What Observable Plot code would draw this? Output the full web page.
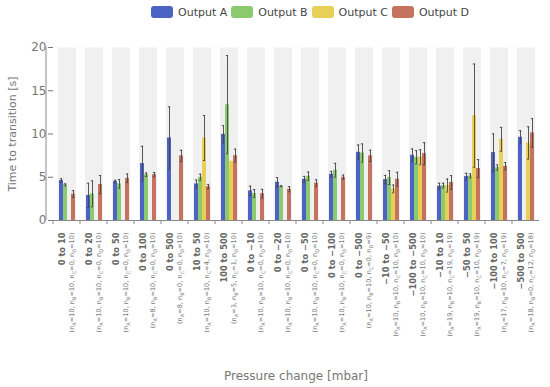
<!DOCTYPE html>
<html>
<head>
<meta charset="utf-8">
<script src="https://cdn.jsdelivr.net/npm/d3@7"></script>
<script src="https://cdn.jsdelivr.net/npm/@observablehq/plot@0.6"></script>
<style>
  body { margin: 0; background: #fff; font-family: "DejaVu Sans", sans-serif; }
  #legend { height: 24px; display: flex; align-items: center; padding-left: 151px; font-size: 11px; color: #444; }
  .item { display: flex; align-items: center; margin-right: 4px; }
  .sw { width: 22px; height: 12px; border-radius: 3px; margin-right: 5px; }
  #xtitle { width: 500px; padding-left: 46px; padding-top: 5px; text-align: center; font-size: 12px; color: #777; line-height: 14px; }
</style>
</head>
<body>
<div id="legend"></div>
<div id="chart"></div>
<div id="xtitle">Pressure change [mbar]</div>
<script>
const groups = ["0 to 10", "0 to 20", "0 to 50", "0 to 100", "0 to 500", "10 to 50", "100 to 500",
  "0 to \u221210", "0 to \u221220", "0 to \u221250", "0 to \u2212100", "0 to \u2212500",
  "\u221210 to \u221250", "\u2212100 to \u2212500", "\u221210 to 10", "\u221250 to 50", "\u2212100 to 100", "\u2212500 to 500"];
const nA = [10, 10, 10, 8, 8, 10, 3, 10, 10, 10, 10, 10, 10, 10, 19, 19, 17, 18];
const nB = [10, 10, 10, 10, 0, 10, 5, 10, 10, 10, 10, 10, 10, 10, 10, 10, 10, 0];
const nC = [0, 0, 0, 0, 0, 4, 1, 0, 0, 0, 0, 0, 10, 10, 19, 10, 7, 12];
const nD = [10, 10, 10, 10, 10, 10, 10, 10, 10, 10, 10, 9, 10, 10, 19, 19, 19, 18];

const meanA = [4.62, 2.9, 4.5, 6.58, 9.54, 4.23, 9.96, 3.42, 4.42, 4.77, 5.35, 7.88, 4.73, 7.54, 3.96, 5.08, 7.85, 9.62];
const errA  = [0.2, 1.4, 0.15, 2.0, 3.6, 0.45, 1.0, 0.55, 0.55, 0.33, 0.33, 0.85, 0.48, 0.73, 0.35, 0.38, 2.17, 0.77];
const meanB = [4.12, 3.08, 4.23, 5.3, null, 5.0, 13.39, 3.12, 3.96, 5.12, 5.81, 7.8, 4.96, 7.31, 4.04, 5.16, 6.12, null];
const errB  = [0.12, 1.5, 0.5, 0.2, null, 0.35, 5.67, 0.45, 0.06, 0.48, 0.8, 1.05, 0.8, 0.77, 0.27, 0.23, 0.3, null];
const meanC = [null, null, null, null, null, 9.54, 6.85, null, null, null, null, null, 3.65, 7.31, 4.04, 12.12, 9.38, 8.96];
const errC  = [null, null, null, null, null, 2.6, 0, null, null, null, null, null, 0.45, 0.87, 0.75, 5.97, 1.38, 1.87];
const meanD = [3.05, 4.15, 4.88, 5.3, 7.47, 3.92, 7.5, 3.1, 3.62, 4.31, 5.0, 7.47, 4.77, 7.73, 4.39, 6.0, 6.27, 10.12];
const errD  = [0.4, 1.05, 0.5, 0.25, 0.65, 0.25, 0.75, 0.5, 0.3, 0.4, 0.25, 0.65, 0.8, 1.27, 0.8, 1.04, 0.42, 1.65];

const seriesNames = ["Output A", "Output B", "Output C", "Output D"];
const seriesColors = ["#4c62c4", "#8cca70", "#e8cf58", "#c5735e"];
const yTicks = [0, 5, 10, 15, 20];

const means = [meanA, meanB, meanC, meanD];
const errs = [errA, errB, errC, errD];
const rows = [];
groups.forEach((g, i) => seriesNames.forEach((s, j) => {
  if (means[j][i] != null) rows.push({group: g, series: s, mean: means[j][i], err: errs[j][i]});
}));
const errRows = rows.filter(d => d.err > 0);
const nLabels = groups.map((g, i) => ({group: g, label: `(nA=${nA[i]}, nB=${nB[i]}, nC=${nC[i]}, nD=${nD[i]})`}));

// legend
const legend = d3.select("#legend");
seriesNames.forEach((s, j) => {
  const it = legend.append("div").attr("class", "item");
  it.append("div").attr("class", "sw").style("background", seriesColors[j]);
  it.append("span").text(s);
});

const plot = Plot.plot({
  width: 550,
  height: 340,
  marginTop: 23,
  marginBottom: 144,
  marginLeft: 46,
  marginRight: 4.5,
  style: {fontFamily: "DejaVu Sans", fontSize: "12px", color: "#777", background: "#fff"},
  fx: {domain: groups, padding: 0, axis: null},
  x: {domain: seriesNames, paddingInner: 0.06, paddingOuter: 1.07, axis: null},
  y: {domain: [0, 20], axis: null},
  color: {domain: seriesNames, range: seriesColors},
  marks: [
    Plot.frame({fill: "#f0f0f0", stroke: null, insetLeft: 4.4, insetRight: 4.4}),
    Plot.barY(rows, {fx: "group", x: "series", y: "mean", fill: "series"}),
    Plot.ruleX(errRows, {fx: "group", x: "series", y1: d => d.mean - d.err, y2: d => d.mean + d.err, stroke: "#444", strokeWidth: 0.9}),
    Plot.tickY(errRows, {fx: "group", x: "series", y: d => d.mean + d.err, stroke: "#444", strokeWidth: 0.9, insetLeft: 0.8, insetRight: 0.8}),
    Plot.tickY(errRows, {fx: "group", x: "series", y: d => d.mean - d.err, stroke: "#444", strokeWidth: 0.9, insetLeft: 0.8, insetRight: 0.8}),
    Plot.ruleY([0], {stroke: "#888"}),
    Plot.axisY({ticks: yTicks, tickSize: 5, tickPadding: 2, label: null, fontSize: 12}),
    Plot.axisY({ticks: [], label: "Time to transition [s]", labelArrow: false, labelAnchor: "center", labelOffset: 45, fontSize: 11}),
    Plot.text(groups, {fx: d => d, text: d => d, frameAnchor: "bottom", rotate: -90, textAnchor: "end", lineAnchor: "middle",
      dx: -5, dy: 12, fontWeight: "bold", fontSize: 8.3, fill: "#666"}),
    Plot.text(nLabels, {fx: "group", text: "label", frameAnchor: "bottom", rotate: -90, textAnchor: "end", lineAnchor: "middle",
      dx: 5, dy: 12, fontSize: 6.6, fill: "#777", className: "nlab"})
  ]
});

const svg = d3.select(plot);
const ys = plot.scale("y");
const fxs = plot.scale("fx");
svg.append("line").attr("x1", 46).attr("x2", 46).attr("y1", ys.apply(20)).attr("y2", ys.apply(0)).attr("stroke", "#888");
groups.forEach(g => {
  const x = fxs.apply(g);
  svg.append("line").attr("x1", x).attr("x2", x).attr("y1", ys.apply(0)).attr("y2", ys.apply(0) + 4).attr("stroke", "#888");
});
// subscripts for n labels
svg.selectAll("g.nlab text").each(function() {
  const t = this.textContent;
  const el = d3.select(this);
  el.text(null);
  const parts = t.split(/n([ABCD])/);
  let shift = 0;
  parts.forEach((p, k) => {
    if (k % 2 === 0) {
      const ts = el.append("tspan").text(p);
      if (shift) { ts.attr("dy", -shift); shift = 0; }
    } else {
      el.append("tspan").text("n");
      el.append("tspan").attr("dy", 1.7).attr("font-size", "4.9px").text(p);
      shift = 1.7;
    }
  });
});

document.getElementById("chart").appendChild(plot);
</script>
</body>
</html>
